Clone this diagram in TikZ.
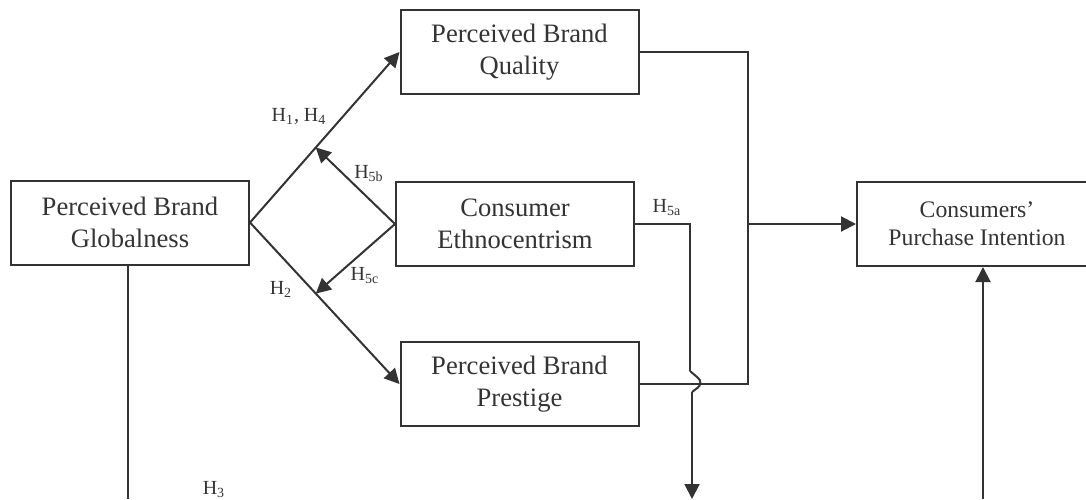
\documentclass[tikz,border=0pt]{standalone}
\usepackage{fontspec}
\setmainfont{Liberation Serif}
\usepackage{tikz}
\usetikzlibrary{arrows.meta}
\usetikzlibrary{calc}

\definecolor{ink}{HTML}{333333}

\tikzset{
  varbox/.style={draw=ink, line width=1pt, text=ink, align=center,
    minimum width=119pt, minimum height=42pt, inner sep=0pt,
    font=\fontsize{13.3}{16}\selectfont},
  link/.style={draw=ink, line width=1pt},
  arr/.style={link, -{Triangle[length=7.5pt,width=7.5pt]}},
  hyp/.style={text=ink, inner sep=0pt, font=\fontsize{10}{12}\selectfont}
}

\begin{document}
\begin{tikzpicture}[x=0.5pt,y=-0.5pt]
\useasboundingbox (0,0) rectangle (1086,499);

% variables
\node[varbox] (glob) at (130,222.5) {Perceived Brand\\Globalness};
\node[varbox] (qual) at (519.5,52) {Perceived Brand\\Quality};
\node[varbox] (ethno) at (515,224) {Consumer\\Ethnocentrism};
\node[varbox] (prest) at (519.5,384) {Perceived Brand\\Prestige};
\node[varbox, minimum width=120pt,
  font=\fontsize{11.85}{14}\selectfont] (purch) at (977,224)
  {Consumers'\\Purchase Intention};

% points on the paths
\coordinate (up) at ($(glob.east)!0.44!(qual.west)$);
\coordinate (down) at ($(glob.east)!0.44!(prest.west)$);
\coordinate (join) at (748,224);
\coordinate (hopa) at (690,371);
\coordinate (hopb) at (692,392);
\coordinate (endA) at (692,499);
\coordinate (endB) at (128,499);
\coordinate (endC) at (983,499);

% H1 to H4
\draw[arr] (glob.east) -- (qual.west);
\draw[arr] (glob.east) -- (prest.west);
\draw[arr] (ethno.west) -- (up);
\draw[arr] (ethno.west) -- (down);

\draw[link]
(qual.east) -- (join |- qual.east) -- (join |- prest.east) -- (prest.east);
\draw[arr] (join) -- (purch.west);

% H5a with a hop
\draw[link] (ethno.east) -- (hopa |- ethno.east) -- (hopa);
\draw[link, rounded corners=4pt] (hopa) -- (704,383) -- (hopb);
\draw[arr] (hopb) -- (endA);

% H3
\draw[link] (glob.south -| endB) -- (endB);
\draw[arr] (endC) -- (endC |- purch.south);

% labels
\node[hyp] (h14) at (299,116) {H\textsubscript{1}, H\textsubscript{4}};
\node[hyp] (h5b) at (369,174) {H\textsubscript{5b}};
\node[hyp] (h5c) at (365,276) {H\textsubscript{5c}};
\node[hyp] (h2) at (281,289) {H\textsubscript{2}};
\node[hyp] (h5a) at (667,208) {H\textsubscript{5a}};
\node[hyp] (h3) at (214,490) {H\textsubscript{3}};
\end{tikzpicture}
\end{document}
